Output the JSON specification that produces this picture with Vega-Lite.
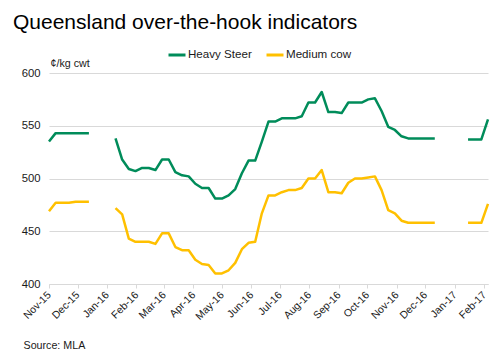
{
  "$schema": "https://vega.github.io/schema/vega-lite/v6.json",
  "width": 439,
  "height": 211,
  "autosize": {"type": "none"},
  "padding": {"left": 49, "top": 73, "right": 12, "bottom": 75},
  "background": "white",
  "config": {
    "font": "Liberation Sans",
    "view": {"stroke": null},
    "axis": {"labelFont": "Liberation Sans", "titleFont": "Liberation Sans", "labelColor": "#1a1a1a", "titleColor": "#1a1a1a"},
    "legend": {"labelFont": "Liberation Sans"}
  },
  "title": {
    "text": "Queensland over-the-hook indicators",
    "anchor": "start",
    "frame": "group",
    "dx": -36,
    "fontSize": 21,
    "fontWeight": "normal",
    "color": "#000000",
    "font": "Liberation Sans",
    "offset": 12
  },
  "data": {
    "values": [
      {"date": "2015-11-01", "Heavy Steer": 535, "Medium cow": 469},
      {"date": "2015-11-08", "Heavy Steer": 543, "Medium cow": 477},
      {"date": "2015-11-15", "Heavy Steer": 543, "Medium cow": 477},
      {"date": "2015-11-22", "Heavy Steer": 543, "Medium cow": 477},
      {"date": "2015-11-29", "Heavy Steer": 543, "Medium cow": 478},
      {"date": "2015-12-06", "Heavy Steer": 543, "Medium cow": 478},
      {"date": "2015-12-13", "Heavy Steer": 543, "Medium cow": 478},
      {"date": "2015-12-20", "Heavy Steer": null, "Medium cow": null},
      {"date": "2015-12-27", "Heavy Steer": null, "Medium cow": null},
      {"date": "2016-01-03", "Heavy Steer": null, "Medium cow": null},
      {"date": "2016-01-10", "Heavy Steer": 538, "Medium cow": 472},
      {"date": "2016-01-17", "Heavy Steer": 518, "Medium cow": 466},
      {"date": "2016-01-24", "Heavy Steer": 509, "Medium cow": 443},
      {"date": "2016-01-31", "Heavy Steer": 507, "Medium cow": 440},
      {"date": "2016-02-07", "Heavy Steer": 510, "Medium cow": 440},
      {"date": "2016-02-14", "Heavy Steer": 510, "Medium cow": 440},
      {"date": "2016-02-21", "Heavy Steer": 508, "Medium cow": 438},
      {"date": "2016-02-28", "Heavy Steer": 518, "Medium cow": 448},
      {"date": "2016-03-06", "Heavy Steer": 518, "Medium cow": 448},
      {"date": "2016-03-13", "Heavy Steer": 506, "Medium cow": 435},
      {"date": "2016-03-20", "Heavy Steer": 503, "Medium cow": 432},
      {"date": "2016-03-27", "Heavy Steer": 502, "Medium cow": 432},
      {"date": "2016-04-03", "Heavy Steer": 495, "Medium cow": 423},
      {"date": "2016-04-10", "Heavy Steer": 491, "Medium cow": 419},
      {"date": "2016-04-17", "Heavy Steer": 491, "Medium cow": 418},
      {"date": "2016-04-24", "Heavy Steer": 481, "Medium cow": 410},
      {"date": "2016-05-01", "Heavy Steer": 481, "Medium cow": 410},
      {"date": "2016-05-08", "Heavy Steer": 484, "Medium cow": 413},
      {"date": "2016-05-15", "Heavy Steer": 490, "Medium cow": 420},
      {"date": "2016-05-22", "Heavy Steer": 505, "Medium cow": 433},
      {"date": "2016-05-29", "Heavy Steer": 517, "Medium cow": 439},
      {"date": "2016-06-05", "Heavy Steer": 517, "Medium cow": 440},
      {"date": "2016-06-12", "Heavy Steer": 535, "Medium cow": 467},
      {"date": "2016-06-19", "Heavy Steer": 554, "Medium cow": 484},
      {"date": "2016-06-26", "Heavy Steer": 554, "Medium cow": 484},
      {"date": "2016-07-03", "Heavy Steer": 557, "Medium cow": 487},
      {"date": "2016-07-10", "Heavy Steer": 557, "Medium cow": 489},
      {"date": "2016-07-17", "Heavy Steer": 557, "Medium cow": 489},
      {"date": "2016-07-24", "Heavy Steer": 559, "Medium cow": 491},
      {"date": "2016-07-31", "Heavy Steer": 572, "Medium cow": 500},
      {"date": "2016-08-07", "Heavy Steer": 572, "Medium cow": 500},
      {"date": "2016-08-14", "Heavy Steer": 582, "Medium cow": 508},
      {"date": "2016-08-21", "Heavy Steer": 563, "Medium cow": 487},
      {"date": "2016-08-28", "Heavy Steer": 563, "Medium cow": 487},
      {"date": "2016-09-04", "Heavy Steer": 562, "Medium cow": 486},
      {"date": "2016-09-11", "Heavy Steer": 572, "Medium cow": 496},
      {"date": "2016-09-18", "Heavy Steer": 572, "Medium cow": 500},
      {"date": "2016-09-25", "Heavy Steer": 572, "Medium cow": 500},
      {"date": "2016-10-02", "Heavy Steer": 575, "Medium cow": 501},
      {"date": "2016-10-09", "Heavy Steer": 576, "Medium cow": 502},
      {"date": "2016-10-16", "Heavy Steer": 564, "Medium cow": 489},
      {"date": "2016-10-23", "Heavy Steer": 549, "Medium cow": 470},
      {"date": "2016-10-30", "Heavy Steer": 546, "Medium cow": 467},
      {"date": "2016-11-06", "Heavy Steer": 540, "Medium cow": 460},
      {"date": "2016-11-13", "Heavy Steer": 538, "Medium cow": 458},
      {"date": "2016-11-20", "Heavy Steer": 538, "Medium cow": 458},
      {"date": "2016-11-27", "Heavy Steer": 538, "Medium cow": 458},
      {"date": "2016-12-04", "Heavy Steer": 538, "Medium cow": 458},
      {"date": "2016-12-11", "Heavy Steer": 538, "Medium cow": 458},
      {"date": "2016-12-18", "Heavy Steer": null, "Medium cow": null},
      {"date": "2016-12-25", "Heavy Steer": null, "Medium cow": null},
      {"date": "2017-01-01", "Heavy Steer": null, "Medium cow": null},
      {"date": "2017-01-08", "Heavy Steer": null, "Medium cow": null},
      {"date": "2017-01-15", "Heavy Steer": 537, "Medium cow": 458},
      {"date": "2017-01-22", "Heavy Steer": 537, "Medium cow": 458},
      {"date": "2017-01-29", "Heavy Steer": 537, "Medium cow": 458},
      {"date": "2017-02-05", "Heavy Steer": 556, "Medium cow": 476}
    ]
  },
  "transform": [
    {"fold": ["Heavy Steer", "Medium cow"], "as": ["series", "value"]}
  ],
  "mark": {"type": "line", "strokeWidth": 2.5, "invalid": "break-paths-filter-domains", "strokeJoin": "round"},
  "encoding": {
    "x": {
      "field": "date",
      "type": "temporal",
      "scale": {
        "type": "utc",
        "domain": [
          {"year": 2015, "month": 11, "date": 1, "utc": true},
          {"year": 2017, "month": 2, "date": 5, "utc": true}
        ],
        "nice": false
      },
      "axis": {
        "labelExpr": "utcFormat(datum.value, '%b-%y')",
        "tickCount": {"interval": "month", "step": 1},
        "labelAngle": -45,
        "labelAlign": "right",
        "labelBaseline": "middle",
        "labelFontSize": 10.5,
        "labelPadding": 5,
        "labelOverlap": false,
        "labelFlush": false,
        "grid": false,
        "domainColor": "#d9d9d9",
        "tickColor": "#d9d9d9",
        "tickSize": 4,
        "title": "Source: MLA",
        "titleX": -26,
        "titleY": 64,
        "titleAlign": "left",
        "titleBaseline": "alphabetic",
        "titleFontSize": 10.7,
        "titleFontWeight": "normal"
      }
    },
    "y": {
      "field": "value",
      "type": "quantitative",
      "scale": {"domain": [400, 600], "nice": false, "zero": false},
      "axis": {
        "values": [400, 450, 500, 550, 600],
        "labelFontSize": 11.3,
        "labelPadding": 9,
        "ticks": false,
        "domain": false,
        "gridColor": "#d9d9d9",
        "title": "¢/kg cwt",
        "titleAngle": 0,
        "titleX": 1,
        "titleY": -7,
        "titleAlign": "left",
        "titleBaseline": "alphabetic",
        "titleFontSize": 10.7,
        "titleFontWeight": "normal"
      }
    },
    "color": {
      "field": "series",
      "type": "nominal",
      "scale": {"domain": ["Heavy Steer", "Medium cow"], "range": ["#008c5a", "#ffc000"]},
      "legend": {
        "title": null,
        "orient": "none",
        "direction": "horizontal",
        "legendX": 118,
        "legendY": -28,
        "symbolType": "stroke",
        "symbolStrokeWidth": 3,
        "symbolSize": 289,
        "labelFontSize": 11.6,
        "labelOffset": 1,
        "labelColor": "#1a1a1a",
        "columnPadding": 8,
        "padding": 0
      }
    }
  }
}
